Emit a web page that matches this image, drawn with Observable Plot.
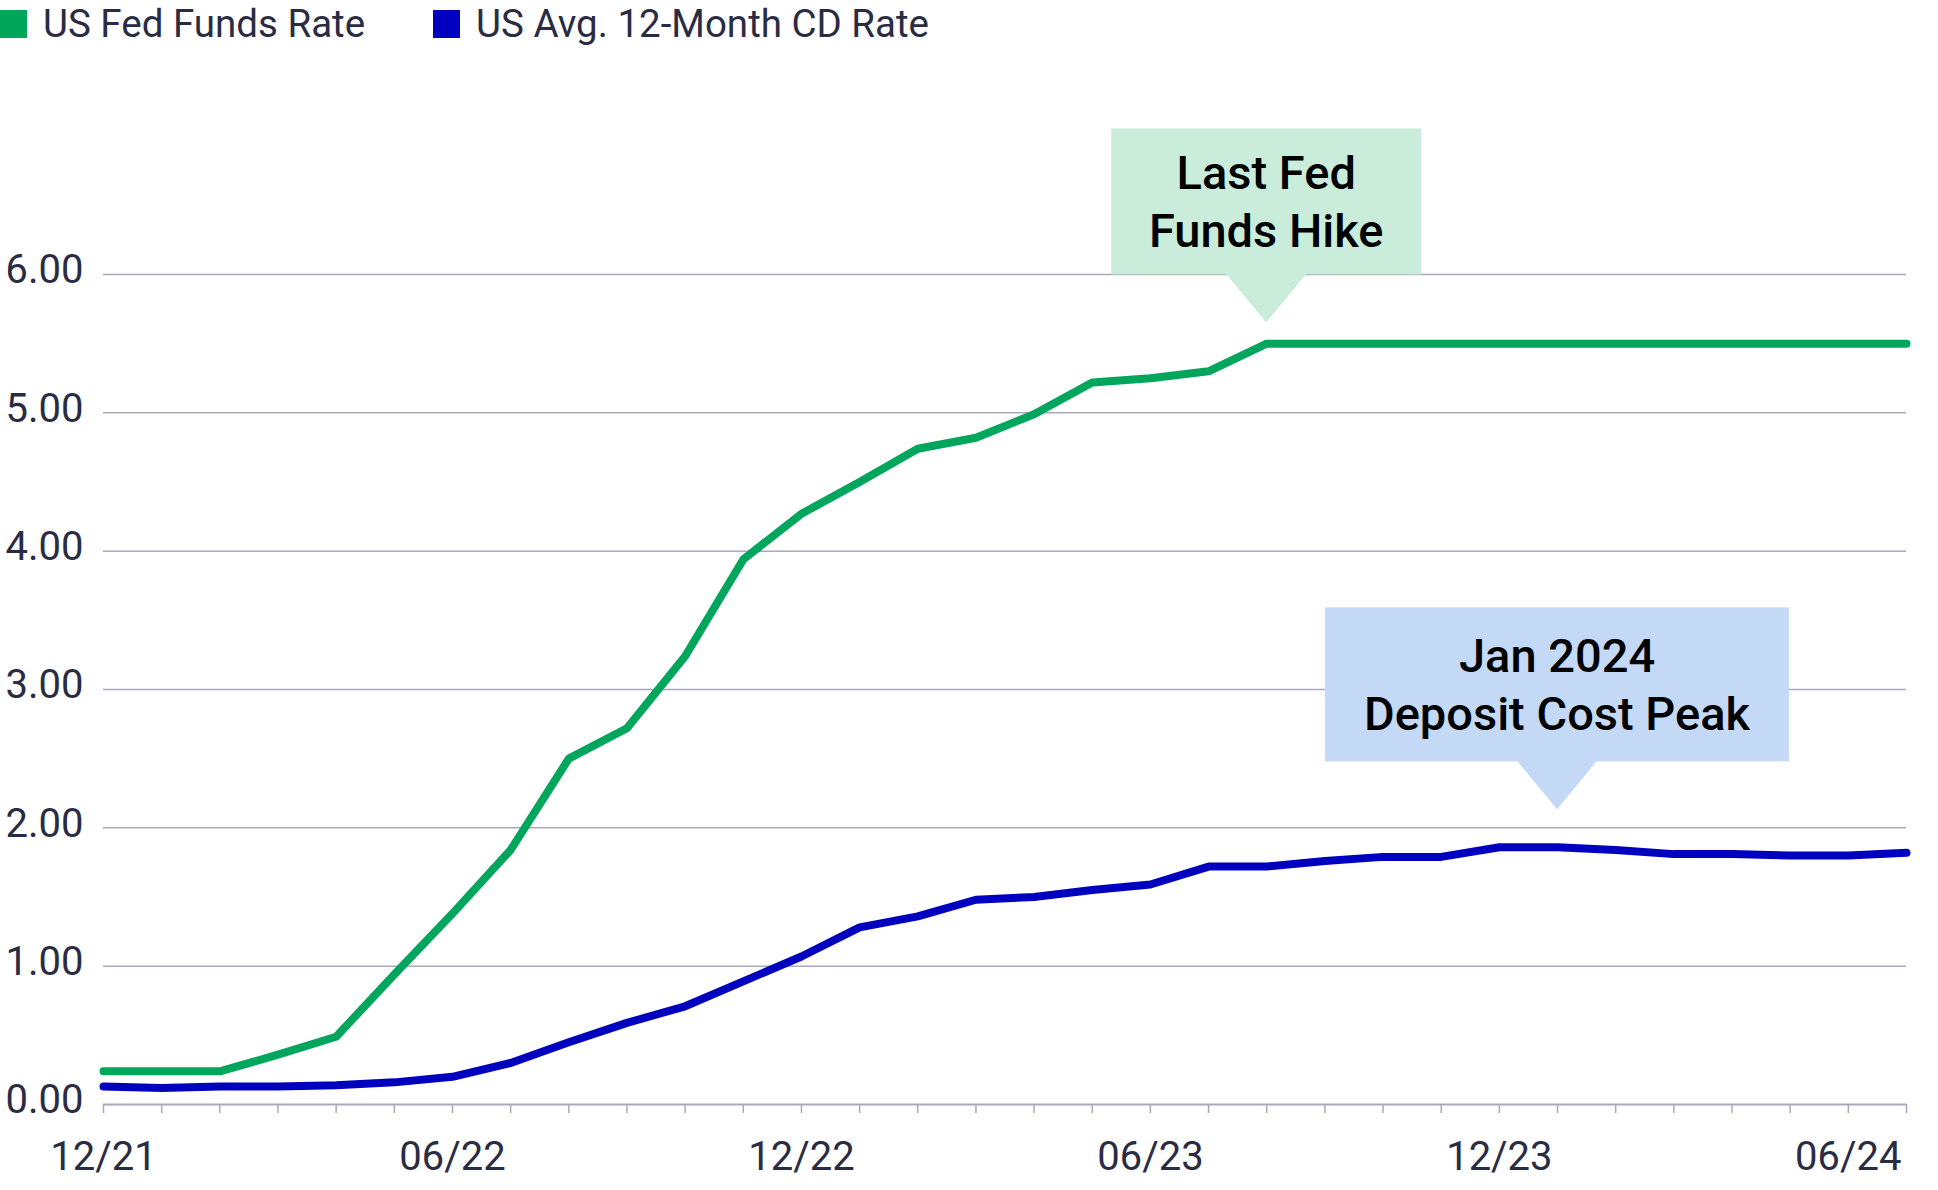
<!DOCTYPE html>
<html>
<head>
<meta charset="utf-8">
<script src="https://cdn.jsdelivr.net/npm/d3@7"></script>
<script src="https://cdn.jsdelivr.net/npm/@observablehq/plot@0.6"></script>
<style>
  html, body { margin: 0; padding: 0; background: #ffffff; }
  #legend { position: relative; height: 46px; display: flex; align-items: center; font-family: Roboto, "Noto Sans", sans-serif; font-size: 38.5px; color: #2a2c44; white-space: nowrap; }
  .item { display: flex; align-items: center; margin-right: 68px; }
  .swatch { width: 27px; height: 28px; margin-right: 16px; margin-top: 2px; }
  svg { display: block; }
</style>
</head>
<body>
<div id="legend"></div>
<div id="chart"></div>
<script>
// ---- data ----
const months = ["12/21","01/22","02/22","03/22","04/22","05/22","06/22","07/22","08/22","09/22","10/22","11/22",
                "12/22","01/23","02/23","03/23","04/23","05/23","06/23","07/23","08/23","09/23","10/23","11/23",
                "12/23","01/24","02/24","03/24","04/24","05/24","06/24","07/24"];
const fedFunds = [0.24,0.24,0.24,0.36,0.49,0.94,1.38,1.84,2.50,2.72,3.24,3.94,
                  4.27,4.50,4.74,4.82,4.99,5.22,5.25,5.30,5.50,5.50,5.50,5.50,
                  5.50,5.50,5.50,5.50,5.50,5.50,5.50,5.50];
const cdRate = [0.13,0.12,0.13,0.13,0.14,0.16,0.20,0.30,0.45,0.59,0.71,0.89,
                1.07,1.28,1.36,1.48,1.50,1.55,1.59,1.72,1.72,1.76,1.79,1.79,
                1.86,1.86,1.84,1.81,1.81,1.80,1.80,1.82];
const seriesNames = ["US Fed Funds Rate", "US Avg. 12-Month CD Rate"];
const seriesColors = ["#00a65c", "#0000bf"];
const yTicks = [0, 1, 2, 3, 4, 5, 6];
const xLabelEvery = 6;
const callouts = [
  {month: "08/23", tip: 5.65, text: ["Last Fed", "Funds Hike"], fill: "#c9ecdb", w: 310, h: 146},
  {month: "01/24", tip: 2.13, text: ["Jan 2024", "Deposit Cost Peak"], fill: "#c3d9f5", w: 464, h: 154}
];

// ---- legend ----
const legend = document.getElementById("legend");
seriesNames.forEach((name, i) => {
  const it = document.createElement("div");
  it.className = "item";
  const sw = document.createElement("div");
  sw.className = "swatch";
  sw.style.background = seriesColors[i];
  const tx = document.createElement("span");
  tx.textContent = name;
  it.appendChild(sw); it.appendChild(tx);
  legend.appendChild(it);
});

// ---- table ----
const fedRows = months.map((m, i) => ({i, v: fedFunds[i]}));
const cdRows = months.map((m, i) => ({i, v: cdRate[i]}));

const gridColor = "#a9a9bb";
const textColor = "#2a2c44";

function calloutMark(index, scales) {
  const g = d3.create("svg:g");
  for (const c of callouts) {
    const tx = scales.x(months.indexOf(c.month));
    const ty = scales.y(c.tip);
    const bottom = ty - 48;
    const top = bottom - c.h;
    g.append("rect")
      .attr("x", tx - c.w / 2).attr("y", top)
      .attr("width", c.w).attr("height", c.h)
      .attr("fill", c.fill);
    g.append("path")
      .attr("d", `M${tx - 40},${bottom - 0.5}L${tx + 40},${bottom - 0.5}L${tx},${ty}Z`)
      .attr("fill", c.fill);
    const cy = (top + bottom) / 2;
    const t = g.append("text")
      .attr("text-anchor", "middle")
      .attr("font-family", "Roboto, 'Noto Sans', sans-serif")
      .attr("font-size", 47)
      .attr("font-weight", 500)
      .attr("fill", "#000000");
    t.append("tspan").attr("x", tx).attr("y", cy - 12).text(c.text[0]);
    t.append("tspan").attr("x", tx).attr("y", cy + 46).text(c.text[1]);
  }
  return g.node();
}

const chart = Plot.plot({
  width: 1938,
  height: 1144,
  marginLeft: 103,
  marginRight: 32,
  marginTop: 228,
  marginBottom: 86,
  style: {fontFamily: "Roboto, 'Noto Sans', sans-serif", fontSize: "40px", color: textColor, background: "#ffffff"},
  x: {type: "linear", domain: [0, months.length - 1], axis: null},
  y: {domain: [0, 6], axis: null},
  marks: [
    Plot.ruleY(yTicks.filter(d => d > 0), {stroke: gridColor, strokeWidth: 1.5}),
    Plot.ruleY([0], {stroke: gridColor, strokeWidth: 2}),
    Plot.axisY({ticks: yTicks, tickFormat: d => d.toFixed(2), tickSize: 0, tickPadding: 20, dy: -4, fill: textColor, label: null}),
    Plot.axisX({ticks: d3.range(months.length), tickFormat: i => (i % xLabelEvery === 0 ? months[i] : ""),
                tickSize: 9, tickPadding: 28, stroke: gridColor, strokeWidth: 1.5, fill: textColor, label: null}),
    calloutMark,
    Plot.line(cdRows, {x: "i", y: "v", stroke: seriesColors[1], strokeWidth: 8, strokeLinecap: "round", strokeLinejoin: "round"}),
    Plot.line(fedRows, {x: "i", y: "v", stroke: seriesColors[0], strokeWidth: 8, strokeLinecap: "round", strokeLinejoin: "round"})
  ]
});
document.getElementById("chart").appendChild(chart);
</script>
</body>
</html>
